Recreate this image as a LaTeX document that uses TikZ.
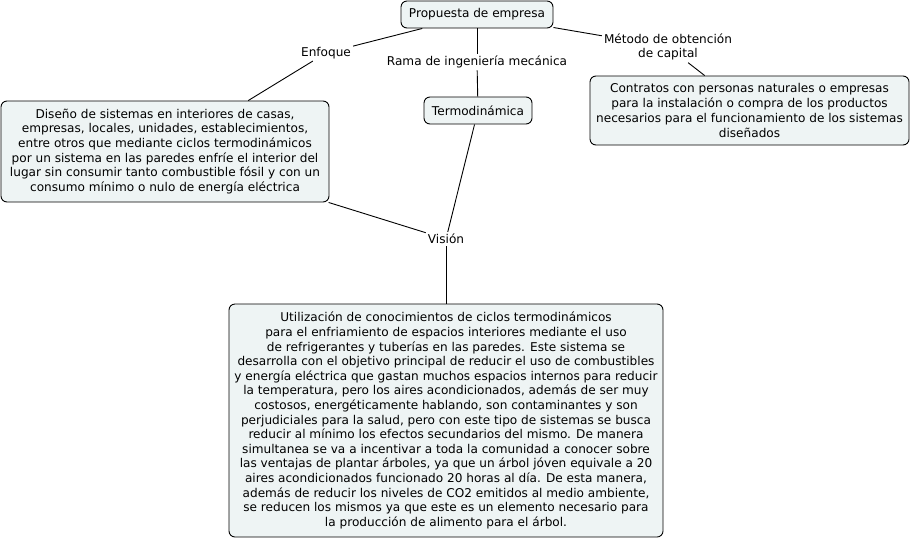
\documentclass[tikz,border=0pt]{standalone}
\usepackage{fontspec}
\setmainfont{DejaVu Sans}
\usepackage{tikz}
\usetikzlibrary{positioning}
\definecolor{conceptfill}{HTML}{EEF4F4}

\begin{document}
\begin{tikzpicture}[
  x=1pt,y=-1pt,
  concept/.style={draw=black,line width=0.9pt,fill=conceptfill,rounded corners=6pt,align=center,inner xsep=5pt,inner ysep=5pt,font=\fontsize{12.1}{14.7}\selectfont},
  linkword/.style={align=center,inner sep=2pt,font=\fontsize{12.1}{14.7}\selectfont},
  conn/.style={draw=black,line width=0.9pt}
]
  \useasboundingbox (0,0) rectangle (912,539);

  \node[concept,minimum width=152pt,minimum height=27pt] (prop) at (477,14.5) {Propuesta de empresa};

  \node[linkword] (enf) at (326,53) {Enfoque};
  \node[linkword] (rama) at (477,62) {Rama de ingeniería mecánica};
  \node[linkword] (met) at (668,47) {Método de obtención\\de capital};

  \node[concept,minimum width=328pt,minimum height=101pt] (dis) at (165,151.5) {Diseño de sistemas en interiores de casas,\\empresas, locales, unidades, establecimientos,\\entre otros que mediante ciclos termodinámicos\\por un sistema en las paredes enfríe el interior del\\lugar sin consumir tanto combustible fósil y con un\\consumo mínimo o nulo de energía eléctrica};
  \node[concept,minimum width=108pt,minimum height=27pt] (termo) at (478,110.5) {Termodinámica};
  \node[concept,minimum width=319pt,minimum height=69pt] (cont) at (749.5,110.5) {Contratos con personas naturales o empresas\\para la instalación o compra de los productos\\necesarios para el funcionamiento de los sistemas\\diseñados};

  \node[linkword] (vis) at (446,239) {Visión};

  \node[concept,minimum width=434pt,minimum height=233pt,font=\fontsize{12.1}{14.6}\selectfont] (util) at (446,420.5) {Utilización de conocimientos de ciclos termodinámicos\\para el enfriamiento de espacios interiores mediante el uso\\de refrigerantes y tuberías en las paredes. Este sistema se\\desarrolla con el objetivo principal de reducir el uso de combustibles\\y energía eléctrica que gastan muchos espacios internos para reducir\\la temperatura, pero los aires acondicionados, además de ser muy\\costosos, energéticamente hablando, son contaminantes y son\\perjudiciales para la salud, pero con este tipo de sistemas se busca\\reducir al mínimo los efectos secundarios del mismo. De manera\\simultanea se va a incentivar a toda la comunidad a conocer sobre\\las ventajas de plantar árboles, ya que un árbol jóven equivale a 20\\aires acondicionados funcionado 20 horas al día. De esta manera,\\además de reducir los niveles de CO2 emitidos al medio ambiente,\\se reducen los mismos ya que este es un elemento necesario para\\la producción de alimento para el árbol.};

  \draw[conn] (prop) -- (enf);
  \draw[conn] (enf) -- (dis);
  \draw[conn] (prop) -- (rama);
  \draw[conn] (rama) -- (termo);
  \draw[conn] (prop) -- (met);
  \draw[conn] (met) -- (cont);
  \draw[conn] (termo) -- (vis);
  \draw[conn] (dis) -- (vis);
  \draw[conn] (vis) -- (util);
\end{tikzpicture}
\end{document}
